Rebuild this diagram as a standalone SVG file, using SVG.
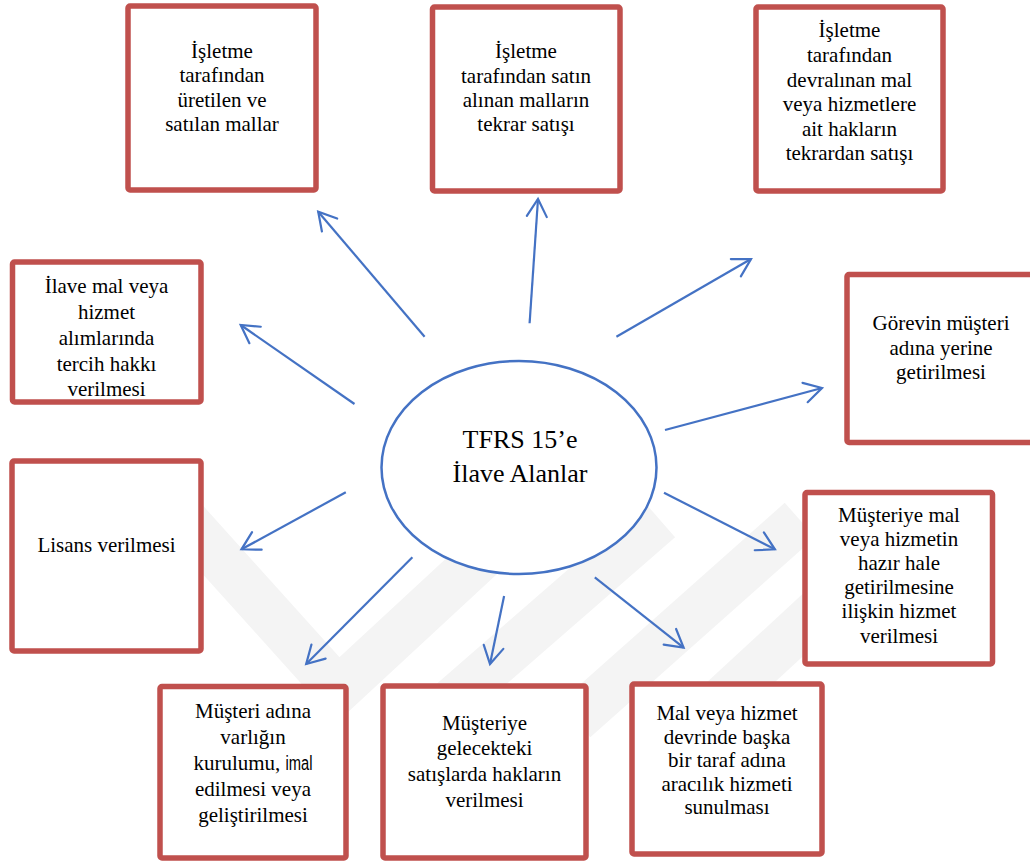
<svg xmlns="http://www.w3.org/2000/svg" width="1030" height="862" viewBox="0 0 1030 862">
  <defs>
    <style>
      .box { fill: #ffffff; stroke: #C0504D; stroke-width: 5.5; }
      .lbl { font-family: "Liberation Serif", "Times New Roman", serif; font-size: 21px; fill: #000000; text-anchor: middle; }
      .hub { font-family: "Liberation Serif", "Times New Roman", serif; font-size: 26px; fill: #000000; text-anchor: middle; }
      .sans { font-family: "Liberation Sans", Arial, sans-serif; font-size: 20px; }
      .conn { stroke: #4472C4; stroke-width: 2.2; fill: none; marker-end: url(#head); }
      .wm { stroke: #F4F4F4; stroke-width: 46; fill: none; stroke-linecap: butt; }
    </style>
    <marker id="head" markerUnits="userSpaceOnUse" viewBox="-22 -12 24 24" markerWidth="24" markerHeight="24" refX="0" refY="0" orient="auto" overflow="visible">
      <path d="M -17.5,-10 L 0,0 L -17.5,10" fill="none" stroke="#4472C4" stroke-width="2.2" stroke-linecap="round" stroke-linejoin="miter"/>
    </marker>
  </defs>

  <rect width="1030" height="862" fill="#ffffff"/>

  <!-- faint background stripes -->
  <g id="backdrop">
    <polyline class="wm" points="185,520 338,690 500,540"/>
    <line class="wm" x1="430" y1="720" x2="660" y2="520"/>
    <line class="wm" x1="575" y1="720" x2="800" y2="520"/>
    <line class="wm" x1="700" y1="720" x2="830" y2="600"/>
  </g>

  <!-- arrows from the central ellipse -->
  <g id="connectors">
    <line class="conn" x1="424.6" y1="336.7" x2="318.2" y2="211.7"/>
    <line class="conn" x1="529.6" y1="323.3" x2="538" y2="199"/>
    <line class="conn" x1="616.4" y1="336.7" x2="751" y2="259"/>
    <line class="conn" x1="354.5" y1="404" x2="240.7" y2="325"/>
    <line class="conn" x1="665" y1="430" x2="822" y2="388"/>
    <line class="conn" x1="345.8" y1="492.3" x2="241.5" y2="549.3"/>
    <line class="conn" x1="412.4" y1="557.3" x2="306.2" y2="664"/>
    <line class="conn" x1="504.1" y1="596" x2="490" y2="664"/>
    <line class="conn" x1="594.8" y1="577.3" x2="683.6" y2="647.7"/>
    <line class="conn" x1="664" y1="492.7" x2="774.9" y2="549.3"/>
  </g>

  <g id="hub">
    <ellipse cx="519" cy="467.5" rx="137.5" ry="106.5" fill="#ffffff" stroke="#4472C4" stroke-width="2.5"/>
    <text class="hub" x="520" y="448">TFRS 15’e</text>
    <text class="hub" x="520" y="482">İlave Alanlar</text>
  </g>

  <g id="n-uretilen">
    <rect class="box" x="128" y="6" width="188" height="184" rx="2"/>
    <text class="lbl" x="222" y="58">İşletme</text>
    <text class="lbl" x="222" y="82">tarafından</text>
    <text class="lbl" x="222" y="107">üretilen ve</text>
    <text class="lbl" x="222" y="131">satılan mallar</text>
  </g>

  <g id="n-satin-alinan">
    <rect class="box" x="432.5" y="7" width="187.5" height="184" rx="2"/>
    <text class="lbl" x="526" y="58">İşletme</text>
    <text class="lbl" x="526" y="83">tarafından satın</text>
    <text class="lbl" x="526" y="107">alınan malların</text>
    <text class="lbl" x="526" y="131">tekrar satışı</text>
  </g>

  <g id="n-devralinan">
    <rect class="box" x="756" y="7" width="187" height="184" rx="2"/>
    <text class="lbl" x="849.5" y="37">İşletme</text>
    <text class="lbl" x="849.5" y="62">tarafından</text>
    <text class="lbl" x="849.5" y="86.5">devralınan mal</text>
    <text class="lbl" x="849.5" y="111">veya hizmetlere</text>
    <text class="lbl" x="849.5" y="135.5">ait hakların</text>
    <text class="lbl" x="849.5" y="160">tekrardan satışı</text>
  </g>

  <g id="n-tercih">
    <rect class="box" x="12.5" y="262" width="188.5" height="140" rx="2"/>
    <text class="lbl" x="106.5" y="293">İlave mal veya</text>
    <text class="lbl" x="106.5" y="319">hizmet</text>
    <text class="lbl" x="106.5" y="345">alımlarında</text>
    <text class="lbl" x="106.5" y="371">tercih hakkı</text>
    <text class="lbl" x="106.5" y="396">verilmesi</text>
  </g>

  <g id="n-gorev">
    <rect class="box" x="847" y="274.5" width="188" height="168" rx="2"/>
    <text class="lbl" x="941" y="330">Görevin müşteri</text>
    <text class="lbl" x="941" y="354.5">adına yerine</text>
    <text class="lbl" x="941" y="379">getirilmesi</text>
  </g>

  <g id="n-lisans">
    <rect class="box" x="12" y="461" width="189" height="190" rx="2"/>
    <text class="lbl" x="106.5" y="552">Lisans verilmesi</text>
  </g>

  <g id="n-hazir-hale">
    <rect class="box" x="805" y="492.5" width="187.5" height="171.5" rx="2"/>
    <text class="lbl" x="899" y="522">Müşteriye mal</text>
    <text class="lbl" x="899" y="546">veya hizmetin</text>
    <text class="lbl" x="899" y="569.5">hazır hale</text>
    <text class="lbl" x="899" y="593.5">getirilmesine</text>
    <text class="lbl" x="899" y="618">ilişkin hizmet</text>
    <text class="lbl" x="899" y="642.5">verilmesi</text>
  </g>

  <g id="n-varlik">
    <rect class="box" x="160" y="686.5" width="186" height="171.5" rx="2"/>
    <text class="lbl" x="253" y="718">Müşteri adına</text>
    <text class="lbl" x="253" y="744">varlığın</text>
    <text class="lbl" x="253" y="770">kurulumu, <tspan class="sans" textLength="27" lengthAdjust="spacingAndGlyphs">imal</tspan></text>
    <text class="lbl" x="253" y="796">edilmesi veya</text>
    <text class="lbl" x="253" y="822">geliştirilmesi</text>
  </g>

  <g id="n-gelecek">
    <rect class="box" x="383" y="686" width="203" height="172" rx="2"/>
    <text class="lbl" x="484.5" y="729.5">Müşteriye</text>
    <text class="lbl" x="484.5" y="755.3">gelecekteki</text>
    <text class="lbl" x="484.5" y="781">satışlarda hakların</text>
    <text class="lbl" x="484.5" y="806.7">verilmesi</text>
  </g>

  <g id="n-aracilik">
    <rect class="box" x="632" y="684" width="190" height="170" rx="2"/>
    <text class="lbl" x="727" y="720">Mal veya hizmet</text>
    <text class="lbl" x="727" y="743.5">devrinde başka</text>
    <text class="lbl" x="727" y="767">bir taraf adına</text>
    <text class="lbl" x="727" y="790.5">aracılık hizmeti</text>
    <text class="lbl" x="727" y="814">sunulması</text>
  </g>
</svg>
